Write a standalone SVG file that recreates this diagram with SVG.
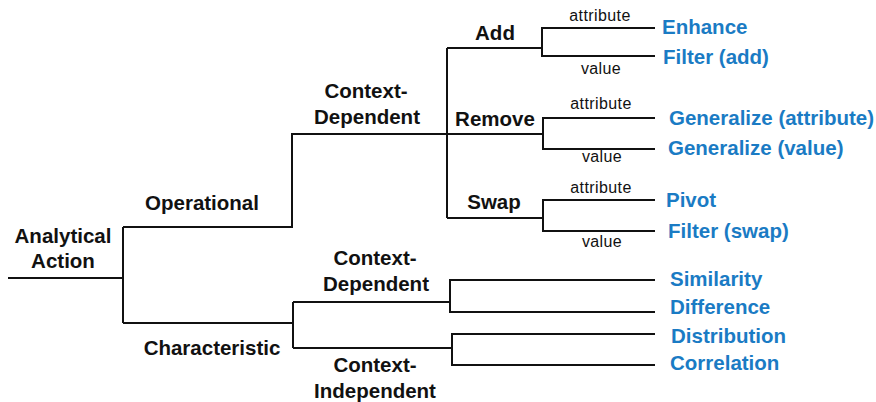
<svg xmlns="http://www.w3.org/2000/svg" width="876" height="402" viewBox="0 0 876 402">
<style>
.ln{fill:none;stroke:#111;stroke-width:2;stroke-linejoin:miter;stroke-linecap:butt}
.b{font-family:"Liberation Sans",Arial,sans-serif;font-weight:bold;font-size:20.5px;fill:#111;text-anchor:middle}
.s{font-family:"Liberation Sans",Arial,sans-serif;font-size:16px;fill:#111;text-anchor:middle;letter-spacing:0.4px}
.l{font-family:"Liberation Sans",Arial,sans-serif;font-weight:bold;font-size:20.5px;fill:#1a7bc4}
</style>
<rect width="876" height="402" fill="#fff"/>
<g id="connectors">
<path class="ln" d="M8,278 H123 M123,227 V323"/>
<path class="ln" d="M123,227 H292 V134 H447 M447,48 V218 M447,48 H542 M447,218 H543"/>
<path class="ln" d="M447,134 H543"/>
<path class="ln" d="M655,28 H542 V56 H655"/>
<path class="ln" d="M655,118 H543 V149 H655"/>
<path class="ln" d="M655,200 H543 V231 H655"/>
<path class="ln" d="M123,323 H293 M293,302 V348 M293,302 H450 M293,348 H452"/>
<path class="ln" d="M655,280 H450 V312 H655"/>
<path class="ln" d="M655,334 H452 V365 H655"/>
</g>
<g id="analytical-action"><text class="b" x="63" y="243">Analytical</text><text class="b" x="63" y="268">Action</text></g>
<g id="operational"><text class="b" x="202" y="210">Operational</text></g>
<g id="characteristic"><text class="b" x="212" y="355">Characteristic</text></g>
<g id="op-context-dependent"><text class="b" x="366" y="98">Context-</text><text class="b" x="367" y="124">Dependent</text></g>
<g id="add"><text class="b" x="495" y="40">Add</text></g>
<g id="remove"><text class="b" x="495" y="126">Remove</text></g>
<g id="swap"><text class="b" x="494" y="209">Swap</text></g>
<g id="ch-context-dependent"><text class="b" x="375" y="265">Context-</text><text class="b" x="376" y="291">Dependent</text></g>
<g id="ch-context-independent"><text class="b" x="375" y="372">Context-</text><text class="b" x="375" y="398">Independent</text></g>
<g id="edge-labels">
<text class="s" x="600" y="21">attribute</text>
<text class="s" x="601" y="74">value</text>
<text class="s" x="601" y="109">attribute</text>
<text class="s" x="602" y="162">value</text>
<text class="s" x="601" y="193">attribute</text>
<text class="s" x="602" y="247">value</text>
</g>
<g id="enhance"><text class="l" x="662" y="34">Enhance</text></g>
<g id="filter-add"><text class="l" x="663" y="64">Filter (add)</text></g>
<g id="generalize-attribute"><text class="l" x="669" y="125">Generalize (attribute)</text></g>
<g id="generalize-value"><text class="l" x="668" y="155">Generalize (value)</text></g>
<g id="pivot"><text class="l" x="666" y="207">Pivot</text></g>
<g id="filter-swap"><text class="l" x="668" y="238">Filter (swap)</text></g>
<g id="similarity"><text class="l" x="670" y="286">Similarity</text></g>
<g id="difference"><text class="l" x="670" y="314">Difference</text></g>
<g id="distribution"><text class="l" x="671" y="343">Distribution</text></g>
<g id="correlation"><text class="l" x="670" y="370">Correlation</text></g>
</svg>
